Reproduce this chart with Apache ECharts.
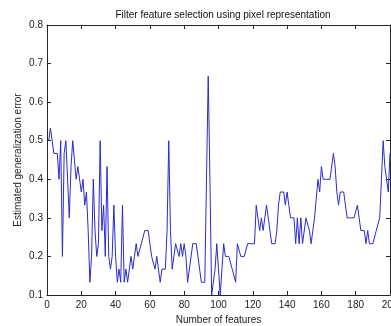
<!DOCTYPE html>
<html>
<head>
<meta charset="utf-8">
<script src="https://cdn.jsdelivr.net/npm/echarts@6/dist/echarts.min.js"></script>
<style>html,body{margin:0;padding:0;background:#fff;}#c{width:391px;height:326px;}</style>
</head>
<body>
<div id="c"></div>
<script>
// Data (feature count 1..200, estimated error)
var chartTitle = 'Filter feature selection using pixel representation';
var xName = 'Number of features';
var yName = 'Estimated generalization error';
var errors = [
 0.5,0.533,0.5,0.467,0.467,0.467,0.4,0.5,0.2,0.467,
 0.5,0.5,0.3,0.433,0.5,0.5,0.4,0.433,0.433,0.367,
 0.4,0.333,0.367,0.267,0.133,0.2,0.4,0.267,0.2,0.233,
 0.5,0.267,0.333,0.2,0.433,0.2,0.167,0.2,0.333,0.2,
 0.133,0.167,0.133,0.333,0.133,0.167,0.133,0.133,0.2,0.167,
 0.2,0.233,0.2,0.2,0.233,0.233,0.267,0.267,0.267,0.233,
 0.2,0.2,0.167,0.2,0.167,0.133,0.167,0.167,0.167,0.267,
 0.5,0.267,0.167,0.167,0.233,0.233,0.2,0.233,0.2,0.233,
 0.2,0.133,0.167,0.167,0.233,0.233,0.233,0.2,0.167,0.133,
 0.133,0.133,0.4,0.667,0.4,0.1,0.1,0.167,0.233,0.233,
 0.1,0.1,0.233,0.2,0.2,0.2,0.2,0.167,0.167,0.133,
 0.233,0.233,0.2,0.2,0.2,0.2,0.233,0.233,0.233,0.233,
 0.233,0.333,0.3,0.267,0.3,0.267,0.3,0.333,0.3,0.267,
 0.233,0.233,0.233,0.267,0.333,0.367,0.367,0.367,0.333,0.367,
 0.333,0.3,0.3,0.3,0.233,0.3,0.233,0.3,0.233,0.233,
 0.3,0.3,0.267,0.233,0.267,0.3,0.3,0.4,0.367,0.433,
 0.4,0.4,0.4,0.4,0.4,0.4,0.467,0.433,0.367,0.333,
 0.367,0.367,0.367,0.333,0.3,0.3,0.3,0.3,0.3,0.3,
 0.333,0.3,0.267,0.267,0.267,0.233,0.267,0.233,0.233,0.233,
 0.233,0.267,0.267,0.3,0.4,0.5,0.433,0.4,0.367,0.467
];
var features = errors.map(function(_, i){ return i + 1; });
var xTicks = {min: 0, max: 200, interval: 20};
var yTicks = {min: 0.1, max: 0.8, interval: 0.1};

var font = 'Liberation Sans, Arial, Helvetica, sans-serif';
var axisCol = '#262626';
function baseX(pos, showLabels) {
  return {
    type: 'value', position: pos, min: xTicks.min, max: xTicks.max, interval: xTicks.interval,
    axisLine: {show: true, onZero: false, lineStyle: {color: axisCol, width: 1}},
    axisTick: {show: true, inside: true, length: 4, lineStyle: {color: axisCol}},
    axisLabel: {show: showLabels, fontSize: 10, color: '#222', fontFamily: font, margin: 5},
    splitLine: {show: false}
  };
}
function baseY(pos, showLabels) {
  return {
    type: 'value', position: pos, min: yTicks.min, max: yTicks.max, interval: yTicks.interval,
    axisLine: {show: true, onZero: false, lineStyle: {color: axisCol, width: 1}},
    axisTick: {show: true, inside: true, length: 4, lineStyle: {color: axisCol}},
    axisLabel: {show: showLabels, fontSize: 10, color: '#222', fontFamily: font, margin: 4,
      formatter: function(v){ return v.toFixed(1); }},
    splitLine: {show: false}
  };
}
var x0 = baseX('bottom', true);
x0.name = xName; x0.nameLocation = 'middle'; x0.nameGap = 17;
x0.nameTextStyle = {fontSize: 10, color: '#222', fontFamily: font};
var y0 = baseY('left', true);
y0.name = yName; y0.nameLocation = 'middle'; y0.nameGap = 24; y0.nameMoveOverlap = false;
y0.nameTextStyle = {fontSize: 10, color: '#222', fontFamily: font};

var chart = echarts.init(document.getElementById('c'), null, {renderer: 'canvas'});
chart.setOption({
  animation: false,
  backgroundColor: '#fff',
  title: {text: chartTitle, left: 218, top: 5, textAlign: 'center',
    textStyle: {fontSize: 10, fontWeight: 'normal', color: '#111', fontFamily: font}},
  grid: {left: 47, right: 1, top: 25, bottom: 31, containLabel: false, outerBoundsMode: 'none'},
  xAxis: [x0, baseX('top', false)],
  yAxis: [y0, baseY('right', false)],
  series: [{
    type: 'line', xAxisIndex: 0, yAxisIndex: 0, showSymbol: false,
    lineStyle: {color: '#2a2ad2', width: 1},
    data: features.map(function(f, i){ return [f, errors[i]]; })
  }]
});
</script>
</body>
</html>
